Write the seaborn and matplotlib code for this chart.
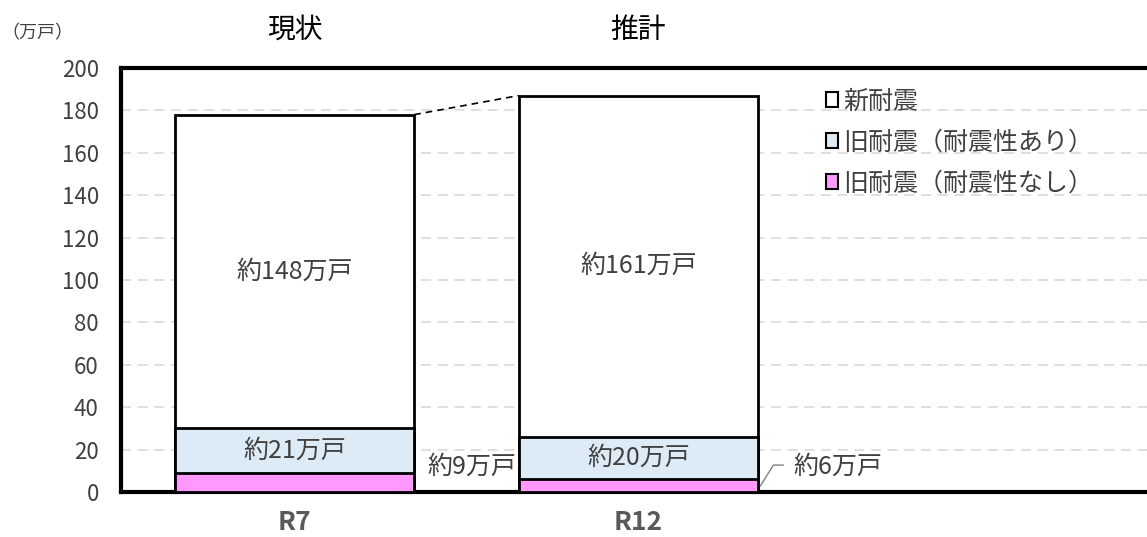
import matplotlib
matplotlib.use("Agg")
import matplotlib.pyplot as plt
from matplotlib.patches import Patch
import seaborn as sns
import pandas as pd

# ---- data ----
categories = ["R7", "R12"]
period_labels = ["現状", "推計"]
new_seismic = [148, 161]          # 新耐震
old_ok = [21, 20]                 # 旧耐震（耐震性あり）
old_ng = [9, 6]                   # 旧耐震（耐震性なし）
series_names = ["新耐震", "旧耐震（耐震性あり）", "旧耐震（耐震性なし）"]
yticks = [0, 20, 40, 60, 80, 100, 120, 140, 160, 180, 200]

sns.set_theme(style="white")
plt.rcParams["font.family"] = ["Noto Sans CJK JP", "DejaVu Sans"]

c_new = "#FFFFFF"
c_ok = "#DDEBF7"
c_ng = "#FF99FF"
txt = "#404040"

fig = plt.figure(figsize=(11.47, 5.37), dpi=100)
ax = fig.add_axes([121 / 1147, 1 - 492 / 537, 1 - 121 / 1147, (492 - 68) / 537])

df = pd.DataFrame({"cat": categories, "new": new_seismic, "ok": old_ok, "ng": old_ng})
df["total"] = df["new"] + df["ok"] + df["ng"]
df["lower2"] = df["ok"] + df["ng"]

w = 0.696
common = dict(x="cat", edgecolor="black", linewidth=2, width=w, ax=ax, saturation=1, zorder=3)
sns.barplot(data=df, y="total", color=c_new, **common)
sns.barplot(data=df, y="lower2", color=c_ok, **common)
sns.barplot(data=df, y="ng", color=c_ng, **common)

ax.set_ylim(0, 200)
ax.set_xlim(-0.505, 2.48)
ax.set_yticks(yticks)
ax.set_xlabel("")
ax.set_ylabel("")
ax.yaxis.grid(True, color="#D9D9D9", linestyle=(0, (6, 4)), linewidth=1.2, zorder=0)
ax.set_axisbelow(True)

for s in ["left", "top", "bottom"]:
    ax.spines[s].set_visible(True)
    ax.spines[s].set_color("black")
    ax.spines[s].set_linewidth(3)
ax.spines["right"].set_visible(False)

ax.tick_params(axis="y", length=0, pad=16, labelsize=16, labelcolor=txt)
ax.tick_params(axis="x", length=0, pad=12, labelsize=19, labelcolor="#595959")
for lab in ax.get_xticklabels():
    lab.set_fontweight("bold")

# segment labels
for i in range(len(categories)):
    lo = old_ng[i] + old_ok[i]
    ax.text(i, lo + new_seismic[i] / 2, f"約{new_seismic[i]}万戸", ha="center", va="center",
            fontsize=18, color=txt, zorder=5)
    ax.text(i, old_ng[i] + old_ok[i] / 2, f"約{old_ok[i]}万戸", ha="center", va="center",
            fontsize=18, color=txt, zorder=5)
    ax.text(i, 218, period_labels[i], ha="center", va="center", fontsize=20,
            color="black", clip_on=False)

# small-segment labels
ax.text(0.517, 11.8, f"約{old_ng[0]}万戸", ha="center", va="center", fontsize=18, color=txt, zorder=5)
ax.text(1.451, 11.8, f"約{old_ng[1]}万戸", ha="left", va="center", fontsize=18, color=txt, zorder=5)
ax.plot([1 + w / 2 + 0.007, 1.393, 1.422], [old_ng[1] / 2 - 0.2, 12.7, 12.7],
        color="#808080", linewidth=1, zorder=5)

# dashed connector between totals
ax.plot([0 + w / 2, 1 - w / 2], [df["total"][0], df["total"][1]], color="black",
        linestyle=(0, (4, 3)), linewidth=1.2, zorder=4)

# legend
handles = [Patch(facecolor=c, edgecolor="black", linewidth=1.5) for c in (c_new, c_ok, c_ng)]
leg = ax.legend(handles, series_names, loc="upper left", bbox_to_anchor=(0.665, 1.005),
                frameon=False, fontsize=18, handlelength=0.5, handleheight=0.5,
                handletextpad=0.2, labelspacing=0.6, labelcolor=txt)

fig.text(37 / 1147, 1 - 33 / 537, "（万戸）", ha="center", va="center", fontsize=13, color=txt)

fig.savefig("out.png", dpi=100)
